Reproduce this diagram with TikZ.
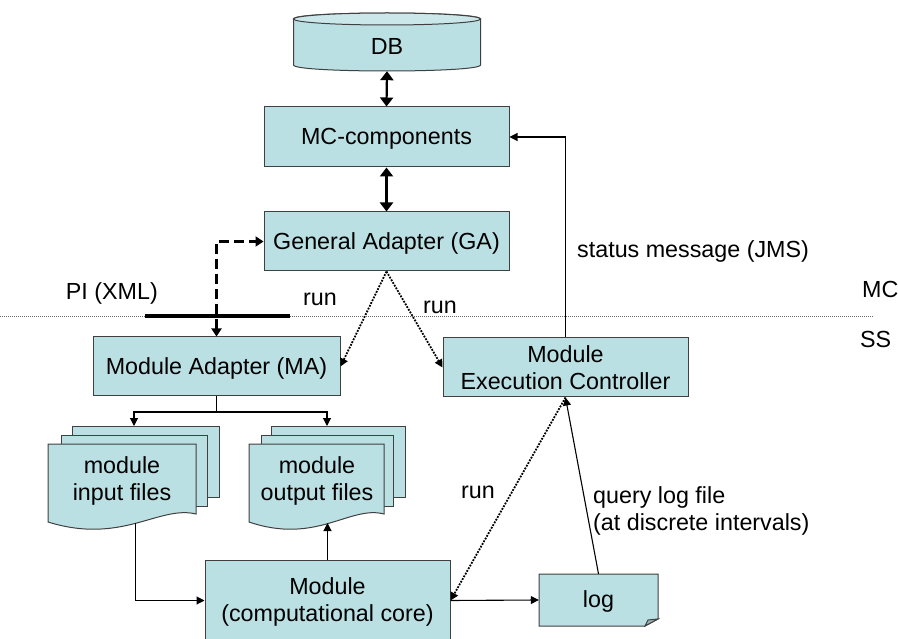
\documentclass[tikz,border=0pt]{standalone}
\usepackage{fontspec}
\setmainfont{Liberation Sans}
\usetikzlibrary{arrows.meta,calc}
\definecolor{boxfill}{HTML}{BBE0E3}
\definecolor{boxline}{HTML}{404040}
\definecolor{dbtop}{HTML}{CBE7EA}
\definecolor{foldfill}{HTML}{96B4B6}
% strut whose vertical middle sits at the middle of the capitals
\newcommand\tstrut{\rule[-0.142em]{0pt}{1em}}

\begin{document}
\begin{tikzpicture}[x=1pt,y=-1pt,
  every node/.style={font=\fontsize{23.3}{27}\selectfont, inner sep=0pt},
  box/.style={draw=boxline, fill=boxfill, line width=1pt, align=center},
  plain/.style={align=center},
  lbl/.style={anchor=base west},
  sheet/.style={draw=boxline, fill=boxfill, line width=1pt},
  biarrow/.style={line width=2.2pt,
    {Triangle[width=13pt,length=9pt]}-{Triangle[width=13pt,length=9pt]}},
  flow/.style={line width=1.1pt, -{Triangle[width=8pt,length=8pt]}},
  runarrow/.style={line width=1.8pt, dash pattern=on 1.8pt off 1.3pt,
    -{Triangle[width=8pt,length=8pt]}},
  piarrow/.style={line width=2.5pt, dash pattern=on 10pt off 5pt,
    {Triangle[width=10pt,length=8pt]}-{Triangle[width=10pt,length=8pt]}},
]
\useasboundingbox (0,0) rectangle (898,639);

% MC / SS divider
\coordinate (divL) at (0,316);
\coordinate (divR) at (873,316);
\draw[line width=0.8pt, draw=black!60, dash pattern=on 1pt off 1pt] (divL) -- (divR);

% database cylinder
\path[sheet] (293.5,19) -- (293.5,65) .. controls (293.5,73) and (480.5,73) .. (480.5,65)
  -- (480.5,19) .. controls (480.5,11) and (293.5,11) .. (293.5,19) -- cycle;
\path[sheet, fill=dbtop] (387,19) ellipse [x radius=93.5pt, y radius=6pt];
\node[plain, minimum width=187pt, minimum height=49pt] (db) at (387,46.5) {\tstrut DB};

% main boxes
\node[box, minimum width=245pt, minimum height=60pt] (mc) at (386.5,137) {\tstrut MC-components};
\node[box, minimum width=245pt, minimum height=59pt] (ga) at (386.5,241.5) {\tstrut General Adapter (GA)};
\node[box, minimum width=247pt, minimum height=59pt] (ma) at (216.5,366.5) {\tstrut Module Adapter (MA)};
\node[box, minimum width=245pt, minimum height=59pt] (mec) at (565.5,367.5)
  {\tstrut Module\\\tstrut Execution Controller};
\node[box, minimum width=245pt, minimum height=81pt] (core) at (327.5,600.5)
  {\tstrut Module\\\tstrut (computational core)};

% log file with folded corner
\path[sheet] (539,574) -- (658,574) -- (658,619) -- (645,626) -- (539,626) -- cycle;
\path[sheet, fill=foldfill] (658,619) -- (645,626) -- (648,620) -- cycle;
\node[plain, minimum width=119pt, minimum height=52pt] (log) at (598.5,600) {\tstrut log};

% input file stack
\path[sheet] (72,426) rectangle (219,497);
\path[sheet] (61,435) rectangle (207,506);
\path[sheet] (48,444) -- (196,444) -- (196,514) .. controls (159,505) and (122,545) .. (48,522) -- cycle;
\node[plain] (infiles) at (122,479) {\tstrut module\\\tstrut input files};

% output file stack
\path[sheet] (271,426) rectangle (405,497);
\path[sheet] (261,435) rectangle (393,506);
\path[sheet] (249,444) -- (384,444) -- (384,514) .. controls (350,505) and (316.5,545) .. (249,522) -- cycle;
\node[plain] (outfiles) at (317,479) {\tstrut module\\\tstrut output files};

% connector end points on the stacks
\coordinate (inTop) at (134,426);
\coordinate (outTop) at (327,426);
\coordinate (inBot) at (135.5,523);
\coordinate (outBot) at (327.5,523);
\coordinate (split) at (216.5,412);

% process instructions bar
\coordinate (barL) at (145,316);
\coordinate (barR) at (290,316);
\draw[line width=4pt] (barL) -- (barR);
\draw[piarrow] (ma.north) |- (ga.west);

% connectors
\draw[biarrow] (db.south) -- (mc.north);
\draw[biarrow] (mc.south) -- (ga.north);
\draw[runarrow] (ga.south) -- (ma.east);
\draw[runarrow] (ga.south) -- (mec.west);
\draw[runarrow] (mec.south) -- (core.east);
\draw[line width=1.1pt] (ma.south) -- (split);
\draw[flow] (split) -| (inTop);
\draw[flow] (split) -| (outTop);
\draw[flow] (inBot) |- (core.west);
\draw[flow] (core.north) -- (outBot);
\draw[flow] (core.east) -- (log.west);
\draw[flow] (log.north) -- (mec.south);
\draw[flow] (mec.north) |- (mc.east);

% labels
\node[anchor=base east] (pi) at (158,300) {PI (XML)};
\node[lbl] (run1) at (303,306) {run};
\node[lbl] (run2) at (423,314) {run};
\node[lbl] (run3) at (461,498) {run};
\node[lbl] (status) at (577,258) {status message (JMS)};
\node[lbl] (mclabel) at (862,298) {MC};
\node[lbl] (sslabel) at (860,348) {SS};
\node[lbl] (query) at (593,503) {query log file};
\node[lbl] (interval) at (593,530) {(at discrete intervals)};
\end{tikzpicture}
\end{document}
